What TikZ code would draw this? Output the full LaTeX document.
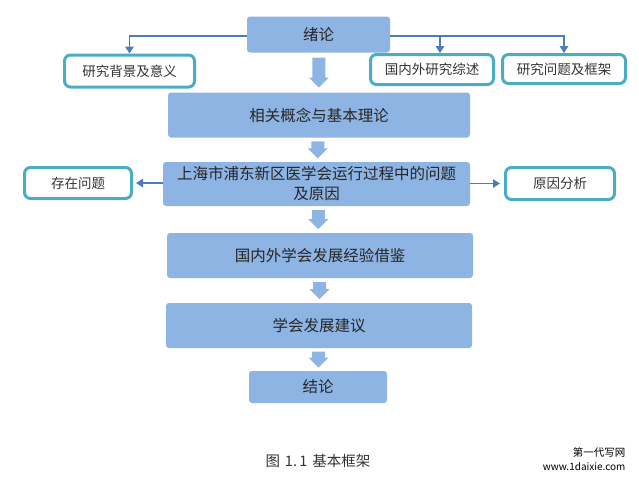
\documentclass[tikz,border=0pt]{standalone}
\usepackage{fontspec}
\setmainfont{Noto Sans CJK SC}
\usepackage{tikz}
\usetikzlibrary{arrows.meta,calc}

\definecolor{boxfill}{RGB}{141,180,226}
\definecolor{tealline}{RGB}{75,172,198}
\definecolor{linkblue}{RGB}{74,126,187}

\tikzset{
	mainbox/.style={fill=boxfill, rounded corners=3pt, inner sep=0pt, align=center,
		font=\fontsize{15.5}{20}\selectfont, text=black!85},
	sidebox/.style={draw=tealline, line width=3pt, fill=white, rounded corners=6pt,
		inner sep=0pt, font=\fontsize{13.5}{16}\selectfont, text=black!80},
	link/.style={draw=linkblue, line width=1.5pt, -{Triangle[length=7pt,width=8.5pt]}}
}
% thick down arrow between two boxes: upper, lower, length
\newcommand{\blockdown}[3]{%
	\fill[boxfill] ($(#1.south)!0.5!(#2.north)$) ++(-6.5,-#3/2) -- ++(13,0) -- ++(0,#3-10)
		-- ++(3.5,0) -- ++(-10,10) -- ++(-10,-10) -- ++(3.5,0) -- cycle;}

\begin{document}
\begin{tikzpicture}[x=1pt,y=-1pt]
	\useasboundingbox (0,0) rectangle (639,480);
	%%  main column  %%%%%%%%
	\node[mainbox, minimum width=143pt, minimum height=36pt] (lun) at (318.5,34.5) {绪论};
	\node[mainbox, minimum width=302pt, minimum height=45pt] (gainian) at (319,115) {相关概念与基本理论};
	\node[mainbox, minimum width=307pt, minimum height=44pt] (wenti) at (316.5,184) {上海市浦东新区医学会运行过程中的问题\\及原因};
	\node[mainbox, minimum width=306pt, minimum height=45pt] (jiejian) at (320,255.5) {国内外学会发展经验借鉴};
	\node[mainbox, minimum width=306pt, minimum height=45pt] (jianyi) at (319,325.5) {学会发展建议};
	\node[mainbox, minimum width=138pt, minimum height=32pt] (jielun) at (318,387) {结论};
	%%  side boxes  %%%%%%%%
	\node[sidebox, minimum width=130pt, minimum height=32pt] (beijing) at (129.5,71) {研究背景及意义};
	\node[sidebox, minimum width=123pt, minimum height=30pt] (zongshu) at (432,69.5) {国内外研究综述};
	\node[sidebox, minimum width=123pt, minimum height=29pt] (kuangjia) at (564,69) {研究问题及框架};
	\node[sidebox, minimum width=107pt, minimum height=31pt] (cunzai) at (78,183) {存在问题};
	\node[sidebox, minimum width=109pt, minimum height=32pt] (yuanyin) at (560,183.5) {原因分析};
	%%  block arrows  %%%%%%%%
	\blockdown{lun}{gainian}{30}
	\blockdown{gainian}{wenti}{17}
	\blockdown{wenti}{jiejian}{19}
	\blockdown{jiejian}{jianyi}{17}
	\blockdown{jianyi}{jielun}{16}
	%%  connectors  %%%%%%%%
	\coordinate (zsin) at ([xshift=8pt]zongshu.north);
	\draw[link] ([yshift=-1.5pt]lun.west) -| (beijing.north);
	\draw[link] ([yshift=-1.5pt]lun.east) -| (kuangjia.north);
	\draw[link] ([yshift=-1.5pt]lun.east -| zsin) -- (zsin);
	\draw[link, shorten >=3pt] (wenti.west |- cunzai.east) -- (cunzai.east);
	\draw[link, shorten >=4pt] (wenti.east |- yuanyin.west) -- (yuanyin.west);
	%%  caption  %%%%%%%%
	\node[font=\fontsize{14.5}{16}\selectfont, text=black!80] (caption) at (318,461) {图\,\,1.\,1\,\,基本框架};
	\node[anchor=east, font=\fontsize{10.5}{12}\selectfont] (mark1) at (629,452) {第一代写网};
	\node[anchor=east, font=\fontsize{10}{12}\selectfont] (mark2) at (629,467) {www.1daixie.com};
	%%%%%%%%%%%%%%%
\end{tikzpicture}
\end{document}
